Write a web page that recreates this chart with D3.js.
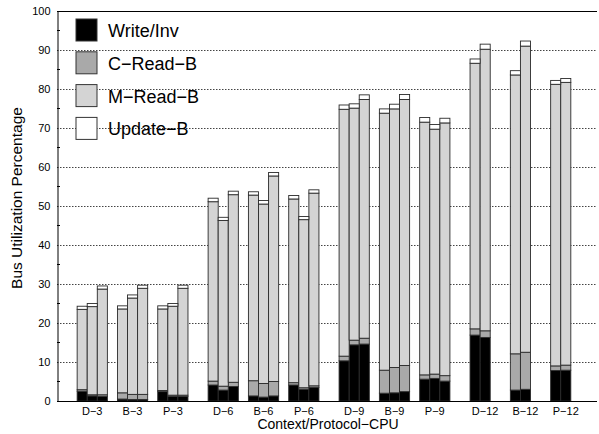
<!DOCTYPE html>
<html>
<head>
<meta charset="utf-8">
<script src="https://cdn.jsdelivr.net/npm/d3@7"></script>
<style>
  html, body { margin: 0; padding: 0; background: #fff; }
  svg { display: block; font-family: "Liberation Sans", Arial, Helvetica, sans-serif; }
</style>
</head>
<body>
<svg id="chart" width="599" height="434"></svg>
<script>
// Context/protocol configurations, three CPU runs per configuration
const groups = ["D\u22123", "B\u22123", "P\u22123", "D\u22126", "B\u22126", "P\u22126",
                "D\u22129", "B\u22129", "P\u22129", "D\u221212", "B\u221212", "P\u221212"];
const runsPerGroup = 3;

const seriesNames = ["Write/Inv", "C\u2212Read\u2212B", "M\u2212Read\u2212B", "Update\u2212B"];
const seriesColors = ["#000000", "#a9a9a9", "#d4d4d4", "#ffffff"];

// Bus utilization (%) per bar, three bars per group, stacked bottom to top
const writeInv = [2.5, 1.3, 1.2,   0.5, 0.4, 0.4,   2.4, 1.2, 1.2,
                  4.1, 2.8, 3.7,   1.3, 1.0, 1.3,   4.1, 3.0, 3.5,
                  10.3, 14.4, 14.6, 2.0, 2.1, 2.4,  5.6, 5.8, 5.1,
                  16.9, 16.3, 0,   2.8, 3.0, 0,     7.8, 7.9, 0];
const cReadB   = [0.4, 0.3, 0.4,   1.6, 1.3, 1.3,   0.3, 0.3, 0.3,
                  1.0, 1.0, 1.1,   3.9, 3.5, 3.7,   0.6, 0.4, 0.4,
                  1.2, 1.2, 1.5,   5.9, 6.5, 6.7,   1.1, 1.1, 1.4,
                  1.6, 1.7, 0,     9.3, 9.5, 0,     1.2, 1.3, 0];
const mReadB   = [20.6, 22.6, 27.1, 21.5, 24.7, 27.2, 20.9, 22.8, 27.4,
                  46.0, 42.5, 48.1, 47.6, 46.0, 52.7, 47.1, 43.1, 49.4,
                  63.3, 59.5, 61.2, 65.9, 66.3, 68.2, 64.8, 62.8, 64.8,
                  68.1, 72.2, 0,    71.5, 78.5, 0,    72.2, 72.5, 0];
const updateB  = [0.8, 0.8, 0.8,   0.8, 0.8, 0.8,   0.8, 0.7, 0.8,
                  0.9, 0.8, 0.9,   0.85, 0.9, 0.9,  0.9, 0.8, 0.85,
                  1.1, 1.1, 1.2,   1.1, 1.2, 1.3,   1.2, 1.2, 1.2,
                  1.1, 1.3, 0,     1.1, 1.3, 0,     1.0, 1.0, 0];

const yTicks = [0, 10, 20, 30, 40, 50, 60, 70, 80, 90, 100];
const yMinorTicks = [5, 15, 25, 35, 45, 55, 65, 75, 85, 95];

const svg = d3.select("#chart");
const plot = { left: 57, right: 597, top: 11, bottom: 401 };

// Each bar occupies one slot; groups are separated by one empty slot,
// and each CPU-count set of three groups by one more.
const slotOf = (bar) => {
  const g = Math.floor(bar / runsPerGroup), i = bar % runsPerGroup;
  return g * (runsPerGroup + 1) + Math.floor(g / 3) + i;
};
const x = d3.scaleLinear().domain([-2, 51.6]).range([plot.left, plot.right]);
const y = d3.scaleLinear().domain([0, 100]).range([plot.bottom, plot.top]);
const slotW = x(1) - x(0);

// Stack the four components
const rows = writeInv.map((_, k) => ({
  bar: k, s0: writeInv[k], s1: cReadB[k], s2: mReadB[k], s3: updateB[k]
}));
const stacked = d3.stack().keys(["s0", "s1", "s2", "s3"])(rows);

// Gridlines (dotted)
svg.append("g")
  .selectAll("line")
  .data(yTicks.filter(t => t > 0 && t < 100))
  .join("line")
  .attr("x1", plot.left).attr("x2", plot.right)
  .attr("y1", d => Math.round(y(d)) + 0.5).attr("y2", d => Math.round(y(d)) + 0.5)
  .attr("stroke", "#444").attr("stroke-width", 1).attr("stroke-dasharray", "1.5,1.5");

// Top frame line
svg.append("line")
  .attr("x1", plot.left).attr("x2", plot.right)
  .attr("y1", y(100) + 0.5).attr("y2", y(100) + 0.5)
  .attr("stroke", "#000").attr("stroke-width", 1);

// Bars
svg.append("g")
  .selectAll("g")
  .data(stacked)
  .join("g")
  .attr("fill", (d, i) => seriesColors[i])
  .selectAll("rect")
  .data(d => d.filter(p => p[1] > p[0]))
  .join("rect")
  .attr("x", p => x(slotOf(p.data.bar)))
  .attr("width", slotW)
  .attr("y", p => y(p[1]))
  .attr("height", p => y(p[0]) - y(p[1]))
  .attr("stroke", "#2a2a2a").attr("stroke-width", 0.9);

// Left axis with major and minor ticks pointing inward
const yAxis = d3.axisLeft(y).tickValues(yTicks).tickSize(0).tickPadding(7);
const gy = svg.append("g").attr("transform", `translate(${plot.left + 0.5},0)`).call(yAxis);
gy.select(".domain").attr("stroke", "#000");
gy.selectAll("text").attr("font-size", 11).attr("fill", "#000")
  .attr("font-family", "'Liberation Sans', Arial, sans-serif");
svg.append("g")
  .selectAll("line")
  .data(yMinorTicks)
  .join("line")
  .attr("x1", plot.left).attr("x2", plot.left + 3)
  .attr("y1", d => y(d)).attr("y2", d => y(d))
  .attr("stroke", "#000");

// Bottom axis, labels centred under each group
const gx = svg.append("g").attr("transform", `translate(0,${plot.bottom + 0.5})`);
gx.append("line").attr("x1", plot.left).attr("x2", plot.right).attr("stroke", "#000");
gx.selectAll("text")
  .data(groups)
  .join("text")
  .attr("x", (d, g) => x(slotOf(g * runsPerGroup) + runsPerGroup / 2))
  .attr("y", 13)
  .attr("text-anchor", "middle")
  .attr("font-size", 11)
  .text(d => d);

// Axis titles
svg.append("text")
  .attr("x", 328).attr("y", 429)
  .attr("text-anchor", "middle").attr("font-size", 14)
  .text("Context/Protocol\u2212CPU");
svg.append("text")
  .attr("transform", "translate(22,198) rotate(-90)")
  .attr("text-anchor", "middle").attr("font-size", 15.5)
  .text("Bus Utilization Percentage");

// Legend
const legend = svg.append("g").attr("transform", "translate(76,19)");
const items = legend.selectAll("g").data(seriesNames).join("g")
  .attr("transform", (d, i) => `translate(0,${i * 32.8})`);
items.append("rect")
  .attr("width", 21).attr("height", 22)
  .attr("fill", (d, i) => seriesColors[i])
  .attr("stroke", "#333").attr("stroke-width", 1);
items.append("text")
  .attr("x", 32).attr("y", 18)
  .attr("font-size", 18)
  .text(d => d);
</script>
</body>
</html>
